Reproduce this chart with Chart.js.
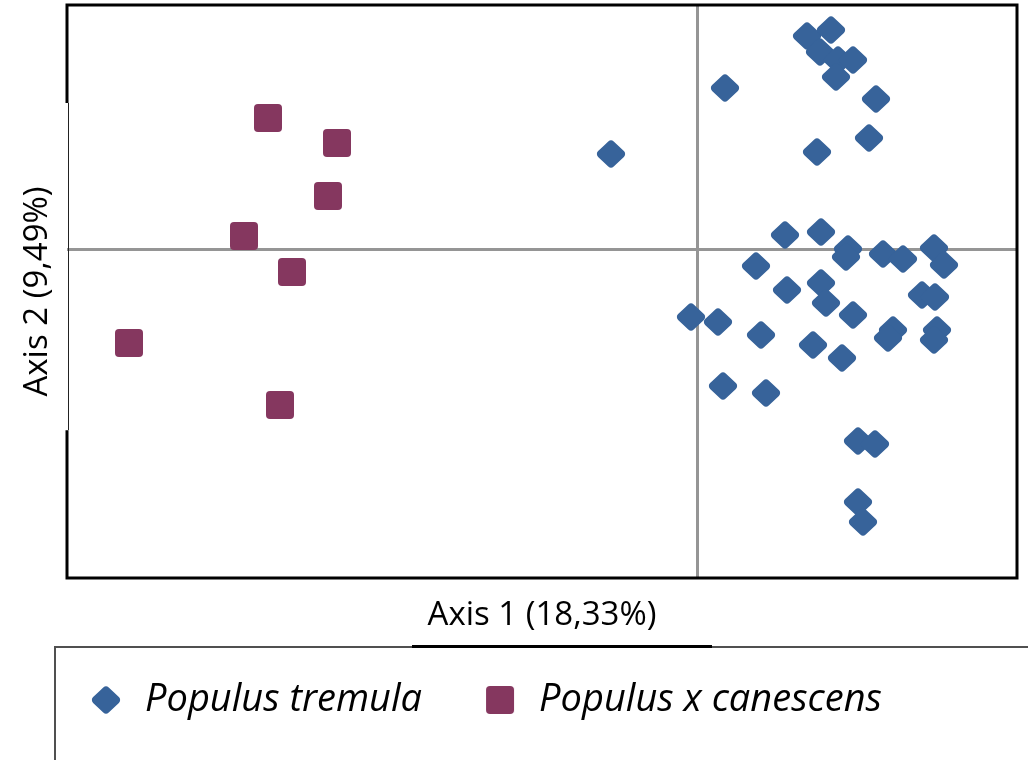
<!DOCTYPE html>
<html>
<head>
<meta charset="utf-8">
<script src="https://cdn.jsdelivr.net/npm/chart.js@4.4.0/dist/chart.umd.min.js"></script>
<style>
  html, body { margin: 0; padding: 0; background: #ffffff; }
  #wrap { width: 1028px; height: 760px; position: relative; }
  canvas { display: block; }
</style>
</head>
<body>
<div id="wrap"><canvas id="c" width="1028" height="760"></canvas></div>
<script>
// ---- data ----
const seriesNames = ['Populus tremula', 'Populus x canescens'];
const axisTitles = ['Axis 1 (18,33%)', 'Axis 2 (9,49%)'];

const tremulaX = [-0.86, 0.28, 1.10, 1.34, 1.23, 1.41, 1.56, 1.39, 1.79, 1.72, 1.20,
                  0.88, 1.24, 1.51, 1.49, 1.86, 2.06, 2.37, 2.47, 0.59, 0.90, 1.24,
                  1.29, 1.56, 2.25, 2.38, -0.06, 0.21, 0.64, 1.96, 1.91, 2.40, 2.37,
                  1.16, 1.45, 0.26, 0.69, 1.61, 1.78, 1.61, 1.66];
const tremulaY = [0.95, 1.61, 2.13, 2.19, 1.97, 1.89, 1.89, 1.72, 1.50, 1.11, 0.97,
                  0.14, 0.17, 0.00, -0.08, -0.05, -0.10, 0.01, -0.16, -0.17, -0.41, -0.34,
                  -0.54, -0.66, -0.46, -0.48, -0.68, -0.73, -0.86, -0.81, -0.89, -0.81, -0.91,
                  -0.96, -1.09, -1.37, -1.44, -1.92, -1.95, -2.53, -2.73];

const canescensX = [-4.29, -3.60, -3.69, -4.53, -4.05, -5.68, -4.17];
const canescensY = [1.31, 1.06, 0.53, 0.13, -0.23, -0.94, -1.56];

// ---- marker images ----
function roundedPoly(pts, r, w, h, color) {
  const c = document.createElement('canvas');
  c.width = w; c.height = h;
  const g = c.getContext('2d');
  g.fillStyle = color;
  g.beginPath();
  const n = pts.length;
  const s = [(pts[n - 1][0] + pts[0][0]) / 2, (pts[n - 1][1] + pts[0][1]) / 2];
  g.moveTo(s[0], s[1]);
  for (let i = 0; i < n; i++) {
    const p = pts[i], q = pts[(i + 1) % n];
    g.arcTo(p[0], p[1], q[0], q[1], r);
  }
  g.closePath();
  g.fill();
  return c;
}
const blue = '#37639A';
const purple = '#85375F';
const diamondImg = roundedPoly([[17, 1], [33, 16], [17, 31], [1, 16]], 4, 34, 32, blue);
const squareImg = roundedPoly([[1, 1], [29, 1], [29, 29], [1, 29]], 4, 30, 30, purple);

const textFont = 'Open Sans';

// ---- plugins ----
const legendShift = {
  id: 'legendShift',
  afterLayout(chart) {
    const l = chart.legend;
    if (!l) return;
    const dx = 28, dy = -31;
    l.left += dx; l.right += dx; l.top += dy; l.bottom += dy;
  }
};

const frame = {
  id: 'frame',
  afterDraw(chart) {
    const { ctx, chartArea: a } = chart;
    const h = a.bottom - a.top;
    const gapTop = a.top + h * 0.171, gapBot = a.top + h * 0.742;
    ctx.save();
    // plot border (the y title box hides part of the left side)
    ctx.strokeStyle = '#000';
    ctx.lineWidth = 3;
    ctx.lineJoin = 'miter';
    ctx.beginPath();
    ctx.moveTo(a.left, gapTop);
    ctx.lineTo(a.left, a.top);
    ctx.lineTo(a.right, a.top);
    ctx.lineTo(a.right, a.bottom);
    ctx.lineTo(a.left, a.bottom);
    ctx.lineTo(a.left, gapBot);
    ctx.stroke();
    ctx.lineWidth = 1;
    ctx.strokeStyle = '#222';
    ctx.beginPath();
    ctx.moveTo(a.left + 1.5, gapTop);
    ctx.lineTo(a.left + 1.5, gapBot);
    ctx.stroke();
    // legend box
    ctx.strokeStyle = '#505050';
    ctx.lineWidth = 2;
    ctx.beginPath();
    ctx.moveTo(55, chart.height + 2);
    ctx.lineTo(55, 647);
    ctx.lineTo(chart.width + 2, 647);
    ctx.stroke();
    // dark rule under the x-axis title
    const xs = chart.scales.x;
    const cx = (xs.left + xs.right) / 2 + 20;
    ctx.strokeStyle = '#000';
    ctx.lineWidth = 3;
    ctx.beginPath();
    ctx.moveTo(cx - 150, 646.5);
    ctx.lineTo(cx + 150, 646.5);
    ctx.stroke();
    ctx.restore();
  }
};

const zeroLine = (c) => (c.tick && Math.abs(c.tick.value) < 1e-9) ? '#959595' : 'rgba(0,0,0,0)';

new Chart(document.getElementById('c'), {
  type: 'scatter',
  data: {
    datasets: [
      {
        label: seriesNames[0],
        data: tremulaX.map((x, i) => ({ x: x, y: tremulaY[i] })),
        pointStyle: diamondImg,
        pointRadius: 16,
        backgroundColor: blue,
        borderColor: blue
      },
      {
        label: seriesNames[1],
        data: canescensX.map((x, i) => ({ x: x, y: canescensY[i] })),
        pointStyle: squareImg,
        pointRadius: 14,
        backgroundColor: purple,
        borderColor: purple
      }
    ]
  },
  options: {
    responsive: false,
    animation: false,
    events: [],
    layout: { autoPadding: false, padding: { left: 0, top: 5, right: 11, bottom: 0 } },
    plugins: {
      legend: {
        position: 'bottom',
        align: 'start',
        labels: {
          usePointStyle: true,
          pointStyleWidth: 40,
          padding: 58,
          color: '#000',
          font: { family: textFont, size: 38, style: 'italic' }
        }
      },
      tooltip: { enabled: false }
    },
    scales: {
      x: {
        type: 'linear',
        min: -6.3,
        max: 3.2,
        ticks: { display: false, stepSize: 1 },
        grid: { color: zeroLine, lineWidth: 3, drawTicks: false },
        border: { display: false },
        title: {
          display: true,
          text: axisTitles[0],
          color: '#000',
          font: { family: textFont, size: 33 },
          padding: { top: 0, bottom: 19 }
        },
        afterFit(s) { s.height = 76; }
      },
      y: {
        type: 'linear',
        min: -3.29,
        max: 2.44,
        ticks: { display: false, stepSize: 1 },
        grid: { color: zeroLine, lineWidth: 3, drawTicks: false },
        border: { display: false },
        title: {
          display: true,
          text: axisTitles[1],
          color: '#000',
          font: { family: textFont, size: 33 },
          padding: { top: 18, bottom: 0 }
        },
        afterFit(s) { s.width = 67; }
      }
    }
  },
  plugins: [legendShift, frame]
});
</script>
</body>
</html>
